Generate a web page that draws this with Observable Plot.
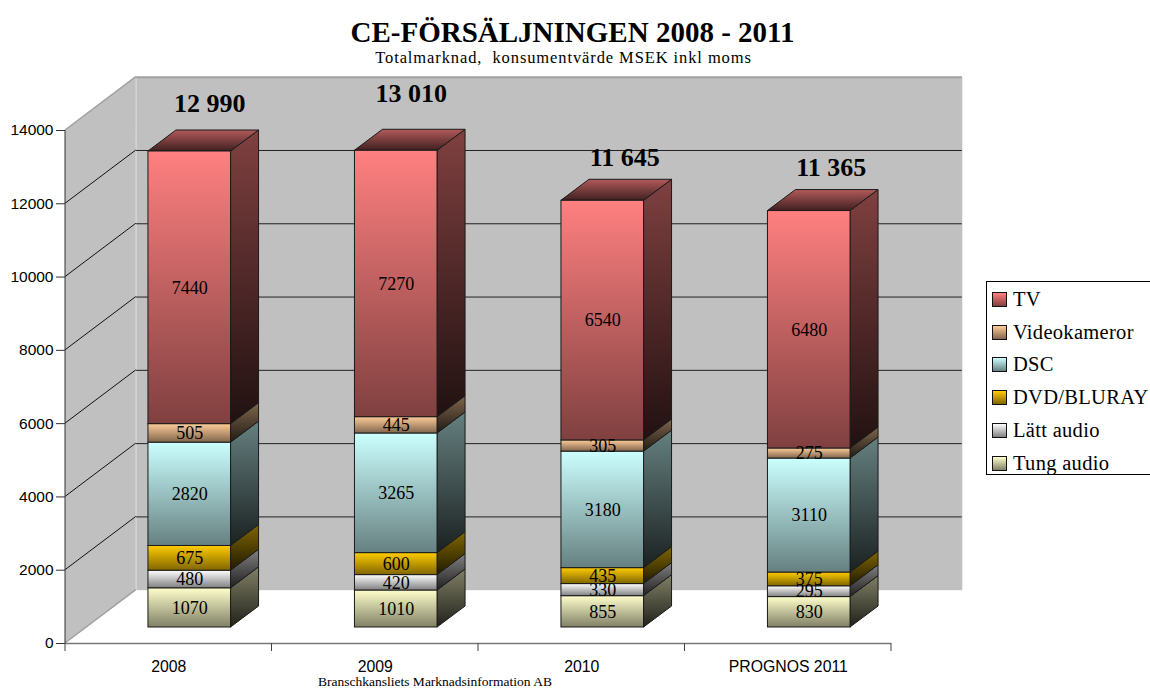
<!DOCTYPE html>
<html lang="sv">
<head>
<meta charset="utf-8">
<script src="https://cdn.jsdelivr.net/npm/d3@7"></script>
<script src="https://cdn.jsdelivr.net/npm/@observablehq/plot@0.6"></script>
<style>
  html, body { margin: 0; padding: 0; background: #fff; }
  #page { position: relative; width: 1150px; height: 689px; overflow: hidden; font-family: "Liberation Serif", serif; color: #000; }
  #page svg { position: absolute; left: 0; top: 0; }
  .t { position: absolute; left: 0; text-align: center; white-space: nowrap; }
  #legend { position: absolute; left: 986px; top: 281px; width: 180px; height: 194px; box-sizing: border-box; border: 1px solid #000; background: #fff; }
  .row { position: absolute; left: 5px; height: 24px; line-height: 24px; font-size: 20.5px; letter-spacing: 0.3px; white-space: nowrap; }
  .sw { display: inline-block; width: 13px; height: 13px; border: 1px solid #111; margin-right: 6px; vertical-align: -1px; box-sizing: content-box; }
</style>
</head>
<body>
<div id="page"></div>
<script>
const categories = ["2008", "2009", "2010", "PROGNOS 2011"];
const seriesNames = ["Tung audio", "Lätt audio", "DVD/BLURAY", "DSC", "Videokameror", "TV"];
const tungAudio = [1070, 1010, 855, 830];
const lattAudio = [480, 420, 330, 295];
const dvdBluray = [675, 600, 435, 375];
const dsc = [2820, 3265, 3180, 3110];
const videokameror = [505, 445, 305, 275];
const tv = [7440, 7270, 6540, 6480];
const totals = [12990, 13010, 11645, 11365];
const totalLabels = ["12 990", "13 010", "11 645", "11 365"];
const yTicks = [0, 2000, 4000, 6000, 8000, 10000, 12000, 14000];
const gridTicks = [2000, 4000, 6000, 8000, 10000, 12000];

const seriesValues = [tungAudio, lattAudio, dvdBluray, dsc, videokameror, tv];
const baseColors = ["#ffffcc", "#ffffff", "#ffcc00", "#ccffff", "#ffcc99", "#ff8080"];

const rows = categories.flatMap((category, i) =>
  seriesNames.map((series, s) => ({category, series, value: seriesValues[s][i]}))
);

// 3D projection
const wallDx = 70.8, wallDy = -53.3;
const barDx = 21, barDy = -16;
const depthDx = 28, depthDy = -21;
const totalNudge = [[20, -48], [15, -57], [22, -43], [22, -43]];

const paddingInner = 0.6, paddingOuter = 0.3;
const shade = (c, k) => { const r = d3.rgb(c); return d3.rgb(r.r * k, r.g * k, r.b * k).formatHex(); };
const gradId = (s, kind) => `g${kind}${s}`;
const stepOf = x => x(categories[1]) - x(categories[0]);

function leftWall(index, {x, y}) {
  const x0 = x(categories[0]) - stepOf(x) * paddingOuter;
  const g = d3.create("svg:g");
  const y0 = y(0), y1 = y(14000);
  g.append("path")
    .attr("d", d3.line()([[x0, y0], [x0 + wallDx, y0 + wallDy], [x0 + wallDx, y1 + wallDy], [x0, y1]]) + "Z")
    .attr("fill", "#c0c0c0");
  for (const t of [0, 14000]) {
    g.append("line").attr("x1", x0).attr("y1", y(t)).attr("x2", x0 + wallDx).attr("y2", y(t) + wallDy)
      .attr("stroke", "#a0a0a0").attr("stroke-width", 1.5);
  }
  for (const t of gridTicks) {
    g.append("line").attr("x1", x0).attr("y1", y(t)).attr("x2", x0 + wallDx).attr("y2", y(t) + wallDy)
      .attr("stroke", "#111").attr("stroke-width", 1);
  }
  g.append("line").attr("x1", x0).attr("x2", x0).attr("y1", y0).attr("y2", y1).attr("stroke", "#333");
  return g.node();
}

function xBoundaryTicks(index, {x, y}) {
  const g = d3.create("svg:g").attr("stroke", "#444");
  const step = stepOf(x), off = step * paddingOuter;
  const xs = categories.map(c => x(c) - off).concat([x(categories[categories.length - 1]) - off + step]);
  for (const px of xs) g.append("line").attr("x1", px).attr("x2", px).attr("y1", y(0)).attr("y2", y(0) + 8);
  return g.node();
}

function depthFaces(index, {x, y}) {
  const g = d3.create("svg:g").attr("stroke", "#1a1a1a").attr("stroke-width", 1).attr("stroke-linejoin", "round");
  const bw = stepOf(x) * (1 - paddingInner);
  categories.forEach((c, i) => {
    const xl = x(c) + barDx, xr = xl + bw;
    let cum = 0;
    seriesNames.forEach((name, s) => {
      const v = seriesValues[s][i];
      const yb = y(cum) + barDy, yt = y(cum + v) + barDy;
      g.append("path")
        .attr("d", d3.line()([[xr, yb], [xr + depthDx, yb + depthDy], [xr + depthDx, yt + depthDy], [xr, yt]]) + "Z")
        .attr("fill", `url(#${gradId(s, "side")})`);
      cum += v;
    });
    const yt = y(cum) + barDy;
    g.append("path")
      .attr("d", d3.line()([[xl, yt], [xr, yt], [xr + depthDx, yt + depthDy], [xl + depthDx, yt + depthDy]]) + "Z")
      .attr("fill", `url(#${gradId(5, "top")})`);
  });
  return g.node();
}

const plot = Plot.plot({
  width: 1150,
  height: 689,
  marginLeft: 65,
  marginRight: 259,
  marginTop: 130,
  marginBottom: 46,
  style: {background: "transparent", overflow: "visible", fontFamily: "'Liberation Sans', sans-serif", fontSize: "15.5px", color: "#000"},
  x: {domain: categories, paddingInner, paddingOuter, round: false, label: null, axis: null},
  y: {domain: [0, 14000], label: null, axis: null},
  color: {domain: seriesNames, range: seriesNames.map((_, s) => `url(#${gradId(s, "front")})`)},
  marks: [
    Plot.frame({fill: "#c0c0c0", stroke: null, dx: wallDx, dy: wallDy}),
    Plot.ruleY([14000], {stroke: "#a0a0a0", strokeWidth: 2, dx: wallDx, dy: wallDy}),
    Plot.ruleY(gridTicks, {stroke: "#222", strokeWidth: 1, dx: wallDx, dy: wallDy}),
    leftWall,
    Plot.axisY({ticks: yTicks, tickFormat: d => String(d), tickSize: 9, tickPadding: 3, label: null, stroke: "#333"}),
    Plot.ruleY([0], {stroke: "#777", strokeWidth: 1.5}),
    Plot.axisX({tickSize: 0, tickPadding: 17, label: null, fontSize: 15.8}),
    xBoundaryTicks,
    depthFaces,
    Plot.barY(rows, {x: "category", y: "value", fill: "series", order: seriesNames, dx: barDx, dy: barDy, stroke: "#1a1a1a", strokeWidth: 1}),
    Plot.text(rows, Plot.stackY({x: "category", y: "value", z: "series", order: seriesNames, text: d => String(d.value), dx: barDx, dy: barDy, fontFamily: "'Liberation Serif', serif", fontSize: 18, fill: "#000"})),
    ...categories.map((c, i) =>
      Plot.text([totals[i]], {x: () => c, y: d => d, text: () => totalLabels[i], dx: barDx + totalNudge[i][0], dy: barDy + totalNudge[i][1], fontFamily: "'Liberation Serif', serif", fontWeight: "bold", fontSize: 26, fill: "#000"})
    )
  ]
});

// gradients
const defs = d3.select(plot).insert("svg:defs", ":first-child");
const addGrad = (id, top, bottom) => {
  const lg = defs.append("linearGradient").attr("id", id).attr("x1", 0).attr("y1", 0).attr("x2", 0).attr("y2", 1);
  lg.append("stop").attr("offset", "0%").attr("stop-color", top);
  lg.append("stop").attr("offset", "100%").attr("stop-color", bottom);
};
baseColors.forEach((c, s) => {
  addGrad(gradId(s, "front"), c, shade(c, 0.5));
  addGrad(gradId(s, "side"), shade(c, 0.5), shade(c, 0.13));
  addGrad(gradId(s, "top"), shade(c, 0.7), shade(c, 0.25));
});

const page = document.getElementById("page");
page.appendChild(plot);

const addText = (txt, css) => {
  const el = document.createElement("div");
  el.className = "t";
  el.textContent = txt;
  el.style.cssText = css;
  page.appendChild(el);
};
addText("CE-FÖRSÄLJNINGEN 2008 - 2011", "left:272.5px;width:600px;top:15px;font-size:29px;font-weight:bold;line-height:34px;");
addText("Totalmarknad,  konsumentvärde MSEK inkl moms", "left:263.5px;width:600px;top:49px;font-size:16.5px;letter-spacing:0.9px;line-height:18px;white-space:pre;");
addText("Branschkansliets Marknadsinformation AB", "left:135px;width:600px;top:674px;font-size:13.5px;line-height:15px;");

const legend = document.createElement("div");
legend.id = "legend";
const legendTop = [5, 37.7, 70.3, 103, 136, 168.7];
[...seriesNames].reverse().forEach((name, i) => {
  const c = baseColors[seriesNames.length - 1 - i];
  const row = document.createElement("div");
  row.className = "row";
  row.style.top = legendTop[i] + "px";
  const sw = document.createElement("span");
  sw.className = "sw";
  sw.style.background = `linear-gradient(${c}, ${shade(c, 0.5)})`;
  row.appendChild(sw);
  row.appendChild(document.createTextNode(name));
  legend.appendChild(row);
});
page.appendChild(legend);
</script>
</body>
</html>
